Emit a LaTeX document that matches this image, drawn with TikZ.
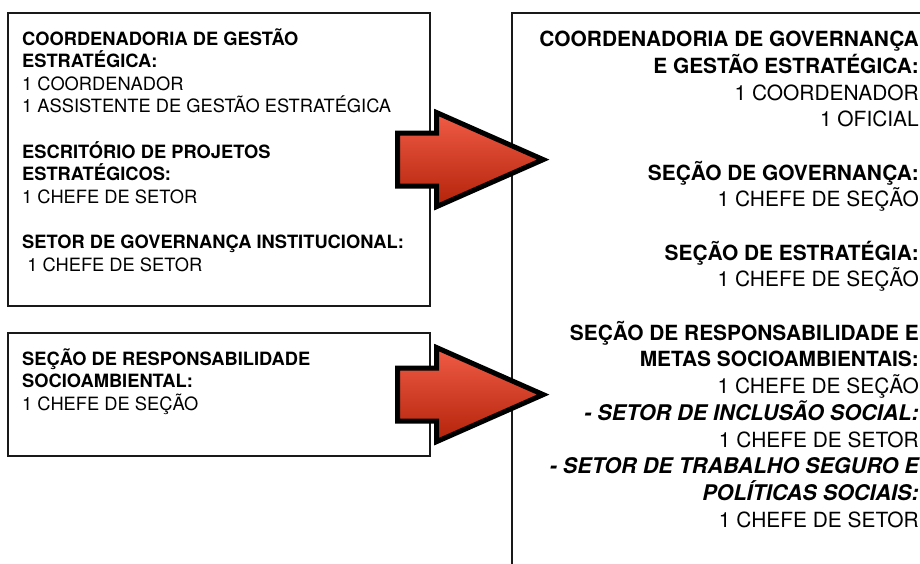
\documentclass[tikz,border=0pt]{standalone}
\usepackage{fontspec}
\setmainfont{TeX Gyre Heros}
\usetikzlibrary{positioning}
\definecolor{arrowtop}{RGB}{240,92,70}
\definecolor{arrowbot}{RGB}{180,34,10}
\newcommand\setorbi[1]{{\fontsize{21.6}{26.67}\selectfont\bfseries\itshape #1}}
\tikzset{box/.style={draw=black!90,line width=2.2pt,inner sep=0pt},
  leftbox/.style={box,minimum width=422pt,anchor=north west},
  lefttext/.style={anchor=base west,align=left,inner sep=0pt,font=\fontsize{18.3}{22.6}\selectfont},
  righttext/.style={anchor=base east,align=right,inner sep=0pt,font=\fontsize{20.9}{26.67}\selectfont},
  bigarrow/.style={line width=5pt,line join=miter,top color=arrowtop,bottom color=arrowbot}}

\begin{document}
\begin{tikzpicture}[x=1pt,y=-1pt]
  \useasboundingbox (0,0) rectangle (920,563);
  \clip (0,0) rectangle (920,563);
  % caixas
  \node[leftbox,minimum height=293pt] (antiga) at (7,12) {};
  \node[leftbox,minimum height=123pt] (socio) at (7,332) {};
  \node[box,anchor=north west,minimum width=430pt,minimum height=580pt] (nova) at (511,12) {};
  % textos (ancorados na linha de base da ultima linha)
  \node[lefttext] (txtantiga) at ([xshift=15pt,yshift=-259pt]antiga.north west) {\textbf{COORDENADORIA DE GESTÃO}\\
    \textbf{ESTRATÉGICA:}\\
    1 COORDENADOR\\
    1 ASSISTENTE DE GESTÃO ESTRATÉGICA\\[22.6pt]
    \textbf{ESCRITÓRIO DE PROJETOS}\\
    \textbf{ESTRATÉGICOS:}\\
    1 CHEFE DE SETOR\\[22.6pt]
    \textbf{SETOR DE GOVERNANÇA INSTITUCIONAL:}\\
    \ 1 CHEFE DE SETOR};
  \node[lefttext] (txtsocio) at ([xshift=15pt,yshift=-78.2pt]socio.north west) {\textbf{SEÇÃO DE RESPONSABILIDADE}\\
    \textbf{SOCIOAMBIENTAL:}\\
    1 CHEFE DE SEÇÃO};
  \node[righttext] (txtnova) at ([xshift=408pt,yshift=-515pt]nova.north west) {\textbf{COORDENADORIA DE GOVERNANÇA}\\
    \textbf{E GESTÃO ESTRATÉGICA:}\\
    1 COORDENADOR\\
    1 OFICIAL\\[26.67pt]
    \textbf{SEÇÃO DE GOVERNANÇA:}\\
    1 CHEFE DE SEÇÃO\\[26.67pt]
    \textbf{SEÇÃO DE ESTRATÉGIA:}\\
    1 CHEFE DE SEÇÃO\\[26.67pt]
    \textbf{SEÇÃO DE RESPONSABILIDADE E}\\
    \textbf{METAS SOCIOAMBIENTAIS:}\\
    1 CHEFE DE SEÇÃO\\
    \setorbi{- SETOR DE INCLUSÃO SOCIAL:}\\
    1 CHEFE DE SETOR\\
    \setorbi{- SETOR DE TRABALHO SEGURO E}\\
    \setorbi{POLÍTICAS SOCIAIS:}\\
    1 CHEFE DE SETOR};
  % setas
  \foreach \de in {antiga,socio}
    \shadedraw[bigarrow] ([xshift=-33.5pt,yshift=26.5pt]\de.east) -- ++(39,0) -- ++(0,-20.5)
      -- ++(106.5,47) -- ++(-106.5,47) -- ++(0,-20.5) -- ++(-39,0) -- cycle;
\end{tikzpicture}
\end{document}
